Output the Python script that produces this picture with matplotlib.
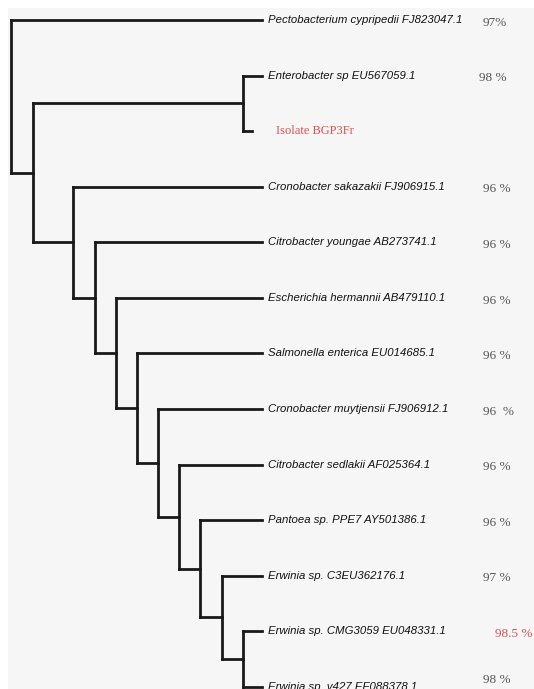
import matplotlib
matplotlib.use("Agg")
import matplotlib.pyplot as plt

# leaves, top to bottom
names = ["Pectobacterium cypripedii FJ823047.1",
         "Enterobacter sp EU567059.1",
         "Isolate BGP3Fr",
         "Cronobacter sakazakii FJ906915.1",
         "Citrobacter youngae AB273741.1",
         "Escherichia hermannii AB479110.1",
         "Salmonella enterica EU014685.1",
         "Cronobacter muytjensii FJ906912.1",
         "Citrobacter sedlakii AF025364.1",
         "Pantoea sp. PPE7 AY501386.1",
         "Erwinia sp. C3EU362176.1",
         "Erwinia sp. CMG3059 EU048331.1",
         "Erwinia sp. v427 EF088378.1"]
identity = ["97%", "98 %", "", "96 %", "96 %", "96 %", "96 %", "96  %",
            "96 %", "96 %", "97 %", "98.5 %", "98 %"]

# tree: (leaf index, branch length) or ([children], branch length)
tree = ([(0, 251),
         ([([(1, 19), (2, 9)], 210),
           ([(3, 189),
             ([(4, 167),
               ([(5, 146),
                 ([(6, 125),
                   ([(7, 104),
                     ([(8, 83),
                       ([(9, 62),
                         ([(10, 40),
                           ([(11, 19), (12, 19)], 21)], 22)], 21)], 21)], 21)], 21)], 21)], 22)], 40)], 22)], 0)

query = 2
highlight = 11

fig = plt.figure(figsize=(5.34, 6.89), dpi=100)
fig.patch.set_facecolor("white")
bg = fig.add_axes([8 / 534, 0, 1 - 8 / 534, 1 - 8 / 689])
bg.set_facecolor("#f6f6f6")
bg.set_xticks([])
bg.set_yticks([])
for s in bg.spines.values():
    s.set_visible(False)

ax = fig.add_axes([0, 0, 1, 1])
ax.patch.set_alpha(0)
ax.set_xlim(-11, 523)
ax.set_ylim(12.04, -0.36)
ax.axis("off")

lw = 2.0
lc = "#1a1a1a"
tips = {}


def draw(node, x0):
    kids, bl = node
    x = x0 + bl
    if isinstance(kids, int):
        tips[kids] = x
        return kids
    ys = [draw(k, x) for k in kids]
    ax.plot([x, x], [min(ys), max(ys)], color=lc, lw=lw, solid_capstyle="projecting")
    y = sum(ys) / len(ys)
    for k, yk in zip(kids, ys):
        ax.plot([x, x + k[1]], [yk, yk], color=lc, lw=lw, solid_capstyle="projecting")
    return y


draw(tree, 0)

for i, nm in enumerate(names):
    if i == query:
        ax.text(tips[i] + 24, i, nm, color="#d9534f", fontsize=9,
                family="Liberation Serif", va="center", ha="left")
    else:
        ax.text(tips[i] + 6, i, nm, color="#111111", fontsize=8.2, style="italic",
                family="Liberation Sans", va="center", ha="left")
    if identity[i]:
        px = 472
        dy = 0.05
        if i == highlight:
            px = 484
        elif i == 1:
            px = 468
        if i == len(names) - 1:
            dy = -0.12
        ax.text(px, i + dy, identity[i], fontsize=9.5, family="Liberation Serif",
                color="#d9534f" if i == highlight else "#555555", va="center", ha="left")

fig.savefig("out.png", dpi=100)
